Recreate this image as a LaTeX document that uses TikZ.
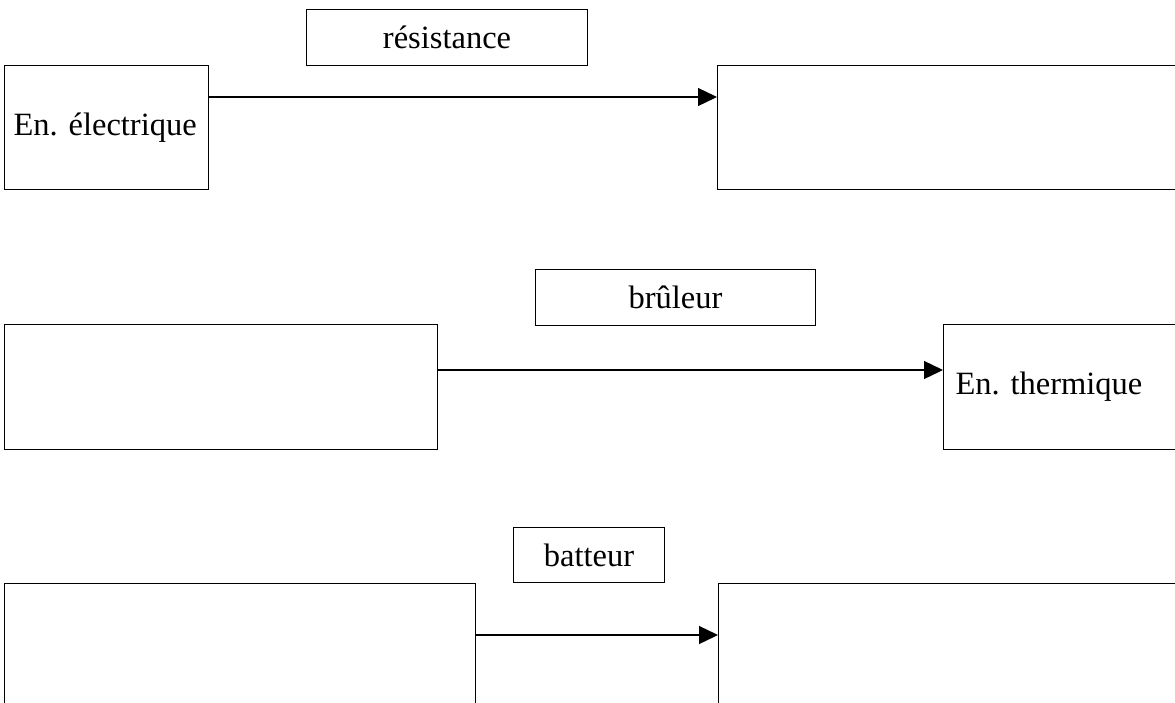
\documentclass[tikz,border=0pt]{standalone}
\usepackage{fontspec}
\setmainfont{Liberation Serif}
\frenchspacing
\usetikzlibrary{arrows.meta}
\tikzset{
  box/.style={draw=black, line width=1.1pt, rectangle, inner sep=0pt, anchor=north west,
    font=\fontsize{32.5}{38}\selectfont},
  lbox/.style={box, align=left},
  arr/.style={draw=black, line width=1.3pt, -{Triangle[length=19pt,width=18pt]}}
}
\begin{document}
\begin{tikzpicture}[x=1pt,y=-1pt]
\clip (0,0) rectangle (1175,702);
\fill[white] (0,0) rectangle (1175,702);
% row 1
\node[box, minimum width=281pt, minimum height=56pt] (res) at (306,9) {résistance};
\node[lbox, minimum width=204pt, minimum height=124pt, inner xsep=9pt, text width=186pt] (elec) at (4,65) {En. électrique};
\node[box, minimum width=480pt, minimum height=124pt] (out1) at (717,65) {};
\draw[arr] ([yshift=-32pt]elec.north east) -- ([yshift=-32pt]out1.north west);
% row 2
\node[box, minimum width=280pt, minimum height=56pt] (bru) at (535,269) {brûleur};
\node[box, minimum width=433pt, minimum height=125pt] (in2) at (4,324) {};
\node[lbox, minimum width=250pt, minimum height=125pt, inner xsep=12pt, text width=226pt] (therm) at (943,324) {En. thermique};
\draw[arr] ([yshift=-46pt]in2.north east) -- ([yshift=-46pt]therm.north west);
% row 3
\node[box, minimum width=151pt, minimum height=55pt] (bat) at (513,527) {batteur};
\node[box, minimum width=471pt, minimum height=140pt] (in3) at (4,583) {};
\node[box, minimum width=480pt, minimum height=140pt] (out3) at (718,583) {};
\draw[arr] ([yshift=-52pt]in3.north east) -- ([yshift=-52pt]out3.north west);
\end{tikzpicture}
\end{document}
